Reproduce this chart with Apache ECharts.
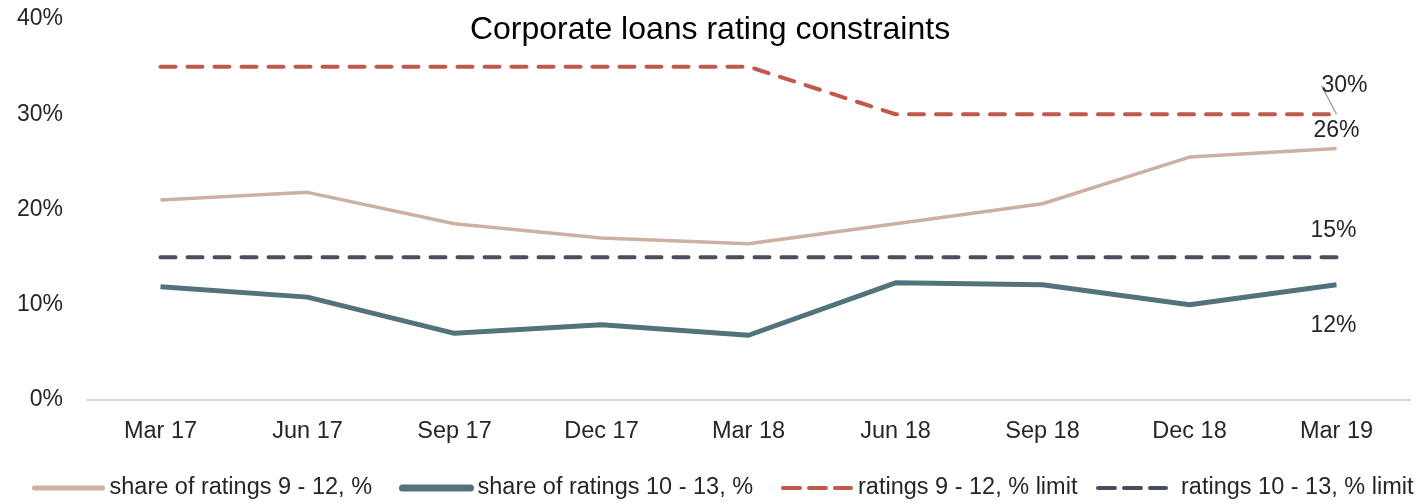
<!DOCTYPE html>
<html>
<head>
<meta charset="utf-8">
<script src="https://cdn.jsdelivr.net/npm/echarts@6/dist/echarts.min.js"></script>
<style>html,body{margin:0;padding:0;background:#fff}#c{width:1420px;height:504px}</style>
</head>
<body>
<div id="c"></div>
<script>
const categories = ['Mar 17','Jun 17','Sep 17','Dec 17','Mar 18','Jun 18','Sep 18','Dec 18','Mar 19'];
const share9to12 = [21.0, 21.8, 18.5, 17.0, 16.4, 18.5, 20.6, 25.5, 26.4];
const share10to13 = [11.9, 10.8, 7.0, 7.9, 6.8, 12.3, 12.1, 10.0, 12.1];
const limit9to12 = [35, 35, 35, 35, 35, 30, 30, 30, 30];
const limit10to13 = [15, 15, 15, 15, 15, 15, 15, 15, 15];
const yTicks = [0, 10, 20, 30, 40];
const names = ['share of ratings 9 - 12, %', 'share of ratings 10 - 13, %', 'ratings 9 - 12, % limit', 'ratings 10 - 13, % limit'];

const FONT = '"Liberation Sans", Arial, sans-serif';
const TXT = '#262626';
const C1 = '#cdb0a4', C2 = '#52737c', C3 = '#c0584c', C4 = '#4a4d5b';

function withLastLabel(arr, labelOpt) {
  return arr.map((v, i) => i === arr.length - 1
    ? { value: v, label: Object.assign({ show: true, formatter: Math.round(v) + '%', color: TXT, fontSize: 23, fontFamily: FONT }, labelOpt) }
    : v);
}

const chart = echarts.init(document.getElementById('c'), null, { renderer: 'canvas' });
function legendAt(left, name, color, width, type, padLeft) {
  return {
    left: left, top: 476, itemWidth: 68, itemHeight: 12, itemGap: 0, padding: 0,
    data: [name],
    itemStyle: { opacity: 0 },
    lineStyle: { color: color, width: width, type: type, cap: 'round' },
    textStyle: { fontSize: 23.5, fontFamily: FONT, color: TXT, padding: [0, 0, 0, padLeft] }
  };
}
chart.setOption({
  animation: false,
  title: {
    text: 'Corporate loans rating constraints', left: 'center', top: 9,
    textStyle: { fontSize: 32, fontWeight: 'normal', fontFamily: FONT, color: '#000' }
  },
  legend: [
    legendAt(32, names[0], C1, 5, 'solid', 2),
    legendAt(399, names[1], C2, 7, 'solid', 2),
    legendAt(781, names[2], C3, 4, [17, 9], 2),
    legendAt(1096, names[3], C4, 4, [17, 9], 10)
  ],
  grid: { left: 87, right: 10, top: 19, bottom: 104, containLabel: false },
  xAxis: {
    type: 'category', data: categories, boundaryGap: true,
    axisLine: { lineStyle: { color: '#d9d9d9', width: 2 } },
    axisTick: { show: false },
    axisLabel: { color: TXT, fontSize: 23.5, fontFamily: FONT, margin: 20 }
  },
  yAxis: {
    type: 'value', min: yTicks[0], max: yTicks[yTicks.length - 1], interval: 10,
    axisLine: { show: false }, axisTick: { show: false }, splitLine: { show: false },
    axisLabel: { color: TXT, fontSize: 23, fontFamily: FONT, margin: 24, formatter: v => v + '%' }
  },
  series: [
    {
      name: names[0], type: 'line', symbol: 'circle', symbolSize: 0, z: 2,
      lineStyle: { color: C1, width: 3.5 }, itemStyle: { color: C1 },
      data: withLastLabel(share9to12, { position: 'top', distance: 6 })
    },
    {
      name: names[1], type: 'line', symbol: 'circle', symbolSize: 0, z: 3,
      lineStyle: { color: C2, width: 5 }, itemStyle: { color: C2 },
      data: withLastLabel(share10to13, { position: 'bottom', distance: 29, offset: [-3, 0] })
    },
    {
      name: names[2], type: 'line', symbol: 'circle', symbolSize: 0, z: 4,
      lineStyle: { color: C3, width: 4, type: [15, 12], cap: 'round' }, itemStyle: { color: C3 },
      labelLayout: { dx: 8, dy: -12 },
      labelLine: { show: true, lineStyle: { color: '#a6a6a6', width: 1.5 } },
      data: withLastLabel(limit9to12, { position: 'top', distance: 5 })
    },
    {
      name: names[3], type: 'line', symbol: 'circle', symbolSize: 0, z: 4,
      lineStyle: { color: C4, width: 4, type: [15, 12], cap: 'round' }, itemStyle: { color: C4 },
      data: withLastLabel(limit10to13, { position: 'top', distance: 15, offset: [-3, 0] })
    }
  ]
});
</script>
</body>
</html>
